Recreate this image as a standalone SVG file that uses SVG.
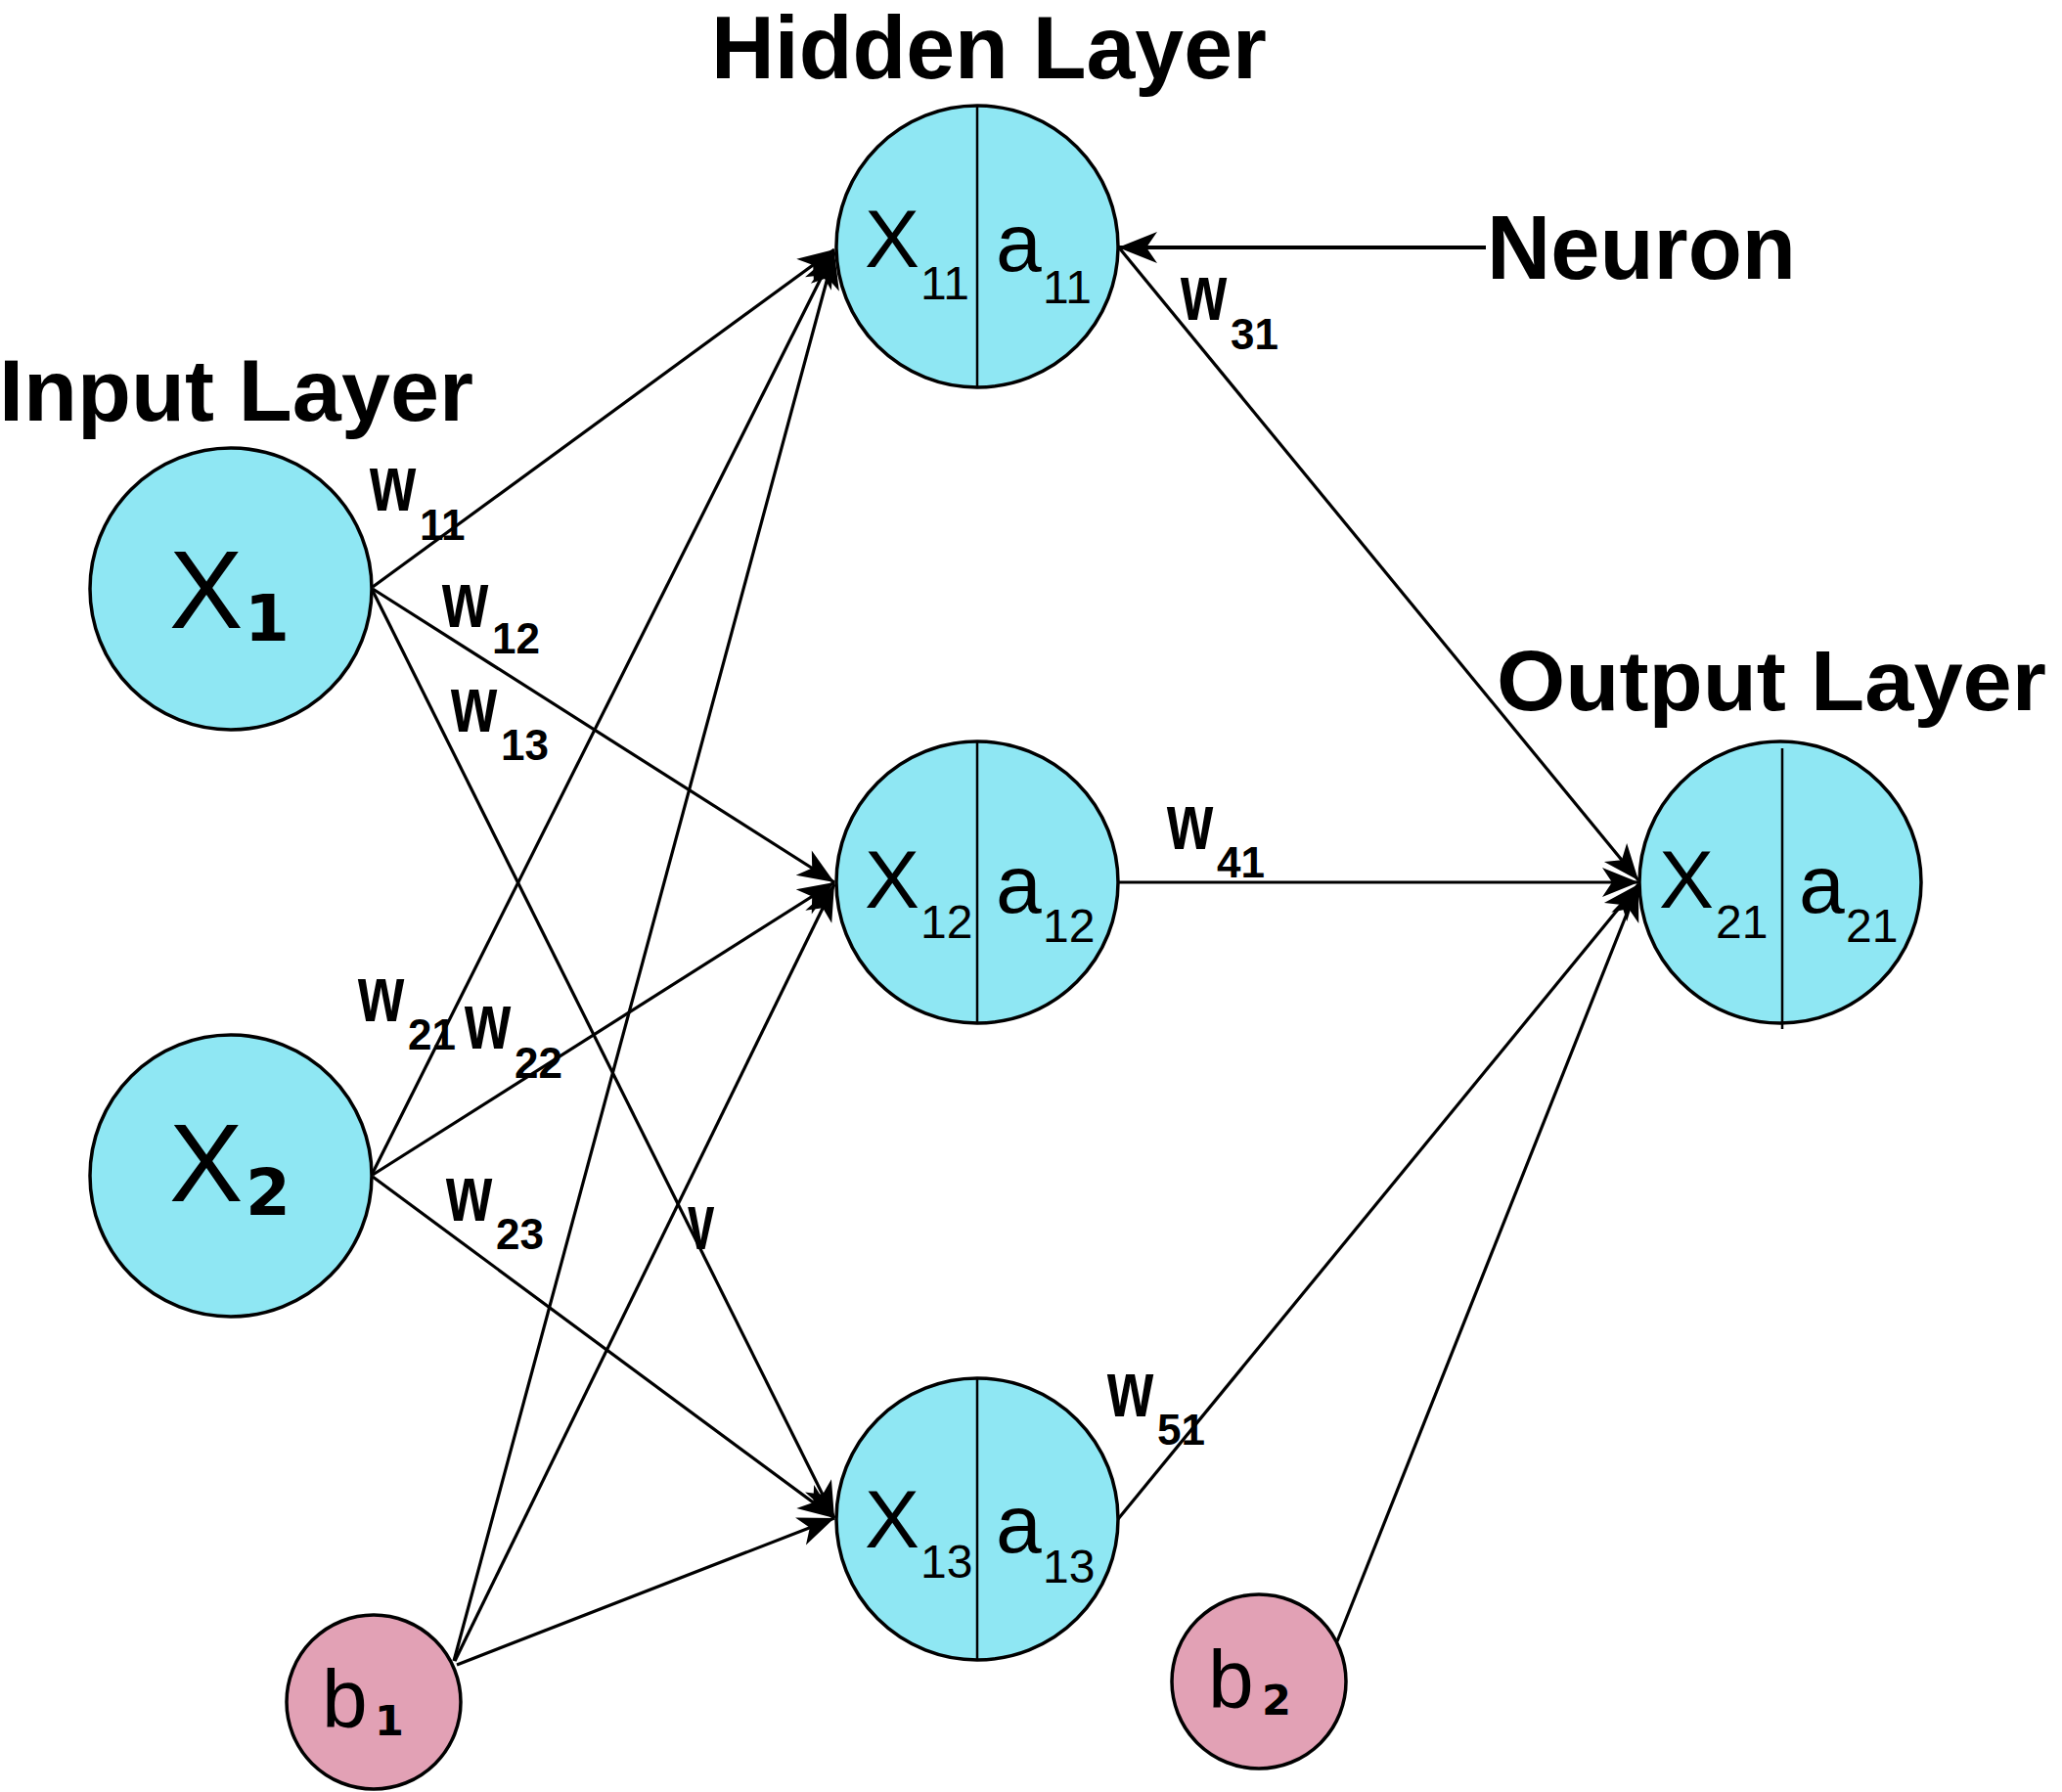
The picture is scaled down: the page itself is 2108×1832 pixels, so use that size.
<svg xmlns="http://www.w3.org/2000/svg" width="2108" height="1832" viewBox="0 0 2108 1832">
<style>
.bg{fill:#ffffff}
.nc{fill:#8fe7f3;stroke:#000;stroke-width:3.5}
.bc{fill:#e2a1b5;stroke:#000;stroke-width:3.5}
.div{stroke:#000;stroke-width:2.5}
.ln{stroke:#000;stroke-width:3.2;fill:none;marker-end:url(#ah)}
.lnb{stroke:#000;stroke-width:4;fill:none;marker-end:url(#ahb)}
.ttl{font-family:"Liberation Sans",Arial,sans-serif;font-weight:bold;fill:#000}
.big{font-family:"Liberation Sans",Arial,sans-serif;font-size:84px;fill:#000}
.sub{font-size:48px}
.bsub{font-family:"DejaVu Sans",sans-serif;font-weight:bold}
.w{font-family:"Liberation Sans",Arial,sans-serif;font-weight:bold;font-size:82px;fill:#000}
.ws{font-family:"Liberation Sans",Arial,sans-serif;font-weight:bold;font-size:44px;fill:#000}
</style>
<defs>
<marker id="ah" markerUnits="userSpaceOnUse" viewBox="-40 -17 42 34" refX="0" refY="0" markerWidth="42" markerHeight="34" orient="auto">
<path d="M0,0 L-37,-15 L-27,0 L-37,15 Z" fill="#000"/>
</marker>
<marker id="ahb" markerUnits="userSpaceOnUse" viewBox="-42 -18 44 36" refX="0" refY="0" markerWidth="44" markerHeight="36" orient="auto">
<path d="M0,0 L-40,-16 L-29,0 L-40,16 Z" fill="#000"/>
</marker>
</defs>
<rect class="bg" x="0" y="0" width="2108" height="1832"/>

<g id="titles">
<text class="ttl" x="727" y="80" font-size="91" textLength="568" lengthAdjust="spacingAndGlyphs">Hidden Layer</text>
<text class="ttl" x="-1" y="430" font-size="89" textLength="485" lengthAdjust="spacingAndGlyphs">Input Layer</text>
<text class="ttl" x="1530" y="726" font-size="88" textLength="562" lengthAdjust="spacingAndGlyphs">Output Layer</text>
<text class="ttl" x="1520" y="285" font-size="92" textLength="316" lengthAdjust="spacingAndGlyphs">Neuron</text>
</g>

<g id="node-x1">
<circle class="nc" cx="236" cy="602" r="144"/>
<text font-family="Liberation Sans, Arial, sans-serif" font-size="113"><tspan x="173" y="642">X</tspan><tspan class="bsub" x="250" y="655" font-size="66">1</tspan></text>
</g>
<g id="node-x2">
<circle class="nc" cx="236" cy="1202" r="144"/>
<text font-family="Liberation Sans, Arial, sans-serif" font-size="113"><tspan x="173" y="1228">X</tspan><tspan class="bsub" x="251" y="1242" font-size="66">2</tspan></text>
</g>
<g id="node-b1">
<circle class="bc" cx="382" cy="1740" r="89"/>
<text class="big"><tspan x="329" y="1766">b</tspan><tspan class="bsub" x="383" y="1774" font-size="43">1</tspan></text>
</g>
<g id="node-b2">
<circle class="bc" cx="1287" cy="1719" r="89"/>
<text class="big"><tspan x="1235" y="1746">b</tspan><tspan class="bsub" x="1290" y="1753" font-size="43">2</tspan></text>
</g>

<g id="node-h11">
<circle class="nc" cx="999" cy="252" r="144"/>
<line class="div" x1="999" y1="108" x2="999" y2="396"/>
<text class="big"><tspan x="884" y="273">X</tspan><tspan class="sub" x="941" y="306">11</tspan></text>
<text class="big"><tspan x="1018" y="277">a</tspan><tspan class="sub" x="1066" y="310">11</tspan></text>
</g>
<g id="node-h12">
<circle class="nc" cx="999" cy="902" r="144"/>
<line class="div" x1="999" y1="758" x2="999" y2="1046"/>
<text class="big"><tspan x="884" y="928">X</tspan><tspan class="sub" x="941" y="959">12</tspan></text>
<text class="big"><tspan x="1018" y="933">a</tspan><tspan class="sub" x="1066" y="963">12</tspan></text>
</g>
<g id="node-h13">
<circle class="nc" cx="999" cy="1553" r="144"/>
<line class="div" x1="999" y1="1409" x2="999" y2="1697"/>
<text class="big"><tspan x="884" y="1582">X</tspan><tspan class="sub" x="941" y="1613">13</tspan></text>
<text class="big"><tspan x="1018" y="1587">a</tspan><tspan class="sub" x="1066" y="1618">13</tspan></text>
</g>
<g id="node-out">
<circle class="nc" cx="1820" cy="902" r="144"/>
<line class="div" x1="1822" y1="765" x2="1822" y2="1052"/>
<text class="big"><tspan x="1696" y="928">X</tspan><tspan class="sub" x="1754" y="959">21</tspan></text>
<text class="big"><tspan x="1839" y="933">a</tspan><tspan class="sub" x="1887" y="963">21</tspan></text>
</g>

<g id="connectors">
<line class="ln" x1="381" y1="600" x2="853" y2="255"/>
<line class="ln" x1="381" y1="602" x2="853" y2="902"/>
<line class="ln" x1="381" y1="604" x2="853" y2="1552"/>
<line class="ln" x1="381" y1="1199" x2="853" y2="257"/>
<line class="ln" x1="381" y1="1201" x2="853" y2="902"/>
<line class="ln" x1="381" y1="1203" x2="853" y2="1552"/>
<line class="ln" x1="464" y1="1698" x2="853" y2="258"/>
<line class="ln" x1="465" y1="1698" x2="853" y2="904"/>
<line class="ln" x1="467" y1="1702" x2="853" y2="1552"/>
<line class="ln" x1="1143" y1="252" x2="1675" y2="900"/>
<line class="ln" x1="1143" y1="902" x2="1675" y2="902" stroke-width="4"/>
<line class="ln" x1="1143" y1="1553" x2="1675" y2="904"/>
<line class="ln" x1="1367" y1="1678" x2="1675" y2="904"/>
<line class="lnb" x1="1519" y1="253" x2="1143" y2="253"/>
</g>

<g id="weights">
<text class="w" transform="translate(378 522) scale(0.74 1)">w</text><text class="ws" x="429" y="552">11</text>
<text class="w" transform="translate(452 641) scale(0.74 1)">w</text><text class="ws" x="503" y="668">12</text>
<text class="w" transform="translate(461 748) scale(0.74 1)">w</text><text class="ws" x="512" y="777">13</text>
<text class="w" transform="translate(366 1044) scale(0.74 1)">w</text><text class="ws" x="417" y="1073">21</text>
<text class="w" transform="translate(475 1072) scale(0.74 1)">w</text><text class="ws" x="526" y="1102">22</text>
<text class="w" transform="translate(456 1248) scale(0.74 1)">w</text><text class="ws" x="507" y="1277">23</text>
<text class="w" transform="translate(1207 327) scale(0.74 1)">w</text><text class="ws" x="1258" y="357">31</text>
<text class="w" transform="translate(1193 868) scale(0.74 1)">w</text><text class="ws" x="1244" y="897">41</text>
<text class="w" transform="translate(1132 1448) scale(0.74 1)">w</text><text class="ws" x="1183" y="1477">51</text>
<text class="w" transform="translate(703 1277) scale(0.6 1)" font-size="46">v</text>
</g>
</svg>
